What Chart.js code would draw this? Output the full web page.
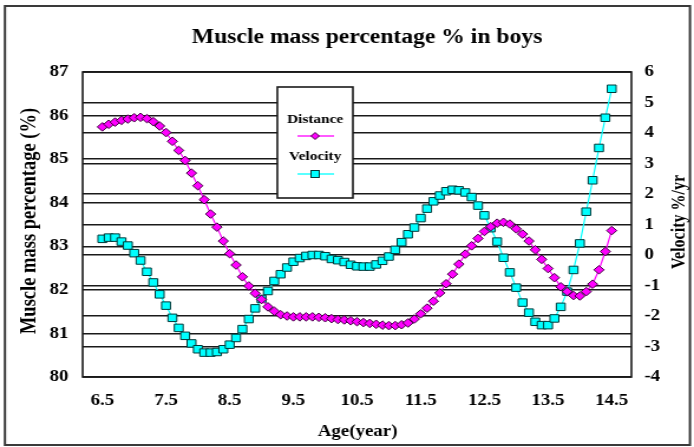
<!DOCTYPE html>
<html><head><meta charset="utf-8">
<script src="https://cdn.jsdelivr.net/npm/chart.js@4"></script>
<style>
html,body{margin:0;padding:0;background:#fff;overflow:hidden}
#wrap{width:694px;height:447px;position:relative;overflow:hidden}
#c{position:absolute;left:0;top:0;transform:scaleX(1.18027);transform-origin:0 0}
</style></head>
<body><div id="wrap"><canvas id="c" width="588" height="447"></canvas></div>
<script>
const ages = [6.5,6.6,6.7,6.8,6.9,7.0,7.1,7.2,7.3,7.4,7.5,7.6,7.7,7.8,7.9,8.0,8.1,8.2,8.3,8.4,8.5,8.6,8.7,8.8,8.9,9.0,9.1,9.2,9.3,9.4,9.5,9.6,9.7,9.8,9.9,10.0,10.1,10.2,10.3,10.4,10.5,10.6,10.7,10.8,10.9,11.0,11.1,11.2,11.3,11.4,11.5,11.6,11.7,11.8,11.9,12.0,12.1,12.2,12.3,12.4,12.5,12.6,12.7,12.8,12.9,13.0,13.1,13.2,13.3,13.4,13.5,13.6,13.7,13.8,13.9,14.0,14.1,14.2,14.3,14.4,14.5];
const distance = [85.74,85.80,85.85,85.89,85.92,
  85.95,85.96,85.93,85.86,85.76,85.61,85.41,85.20,84.97,84.68,
  84.39,84.07,83.74,83.44,83.12,82.83,82.57,82.30,82.09,81.92,
  81.78,81.61,81.51,81.43,81.40,81.38,81.38,81.38,81.38,81.37,
  81.36,81.34,81.32,81.31,81.29,81.27,81.25,81.23,81.21,81.19,
  81.18,81.18,81.20,81.24,81.33,81.45,81.58,81.74,81.93,82.14,
  82.36,82.59,82.82,83.01,83.18,83.34,83.45,83.53,83.55,83.51,
  83.40,83.28,83.12,82.92,82.70,82.49,82.28,82.07,81.96,81.87,
  81.86,81.96,82.13,82.46,82.88,83.36];
const velocity = [0.53,0.57,0.57,0.44,0.31,
  0.06,-0.18,-0.55,-0.90,-1.29,-1.66,-2.06,-2.39,-2.65,-2.90,
  -3.09,-3.20,-3.20,-3.18,-3.09,-2.94,-2.72,-2.43,-2.10,-1.75,
  -1.44,-1.18,-0.85,-0.63,-0.41,-0.22,-0.10,-0.03,0.00,0.00,
  -0.04,-0.13,-0.17,-0.23,-0.32,-0.37,-0.38,-0.38,-0.31,-0.19,
  -0.05,0.17,0.42,0.68,0.90,1.21,1.52,1.76,1.95,2.09,
  2.14,2.12,2.05,1.90,1.62,1.30,0.88,0.44,-0.09,-0.57,
  -1.07,-1.56,-1.89,-2.19,-2.30,-2.30,-2.08,-1.70,-1.20,-0.49,
  0.38,1.42,2.45,3.51,4.50,5.45];
const xTicks = [6.5,7.5,8.5,9.5,10.5,11.5,12.5,13.5,14.5];
const leftTicks = [80,81,82,83,84,85,86,87];
const rightTicks = [-4,-3,-2,-1,0,1,2,3,4,5,6];
const titleText = 'Muscle mass percentage % in boys';
const xTitle = 'Age(year)';
const leftTitle = 'Muscle mass percentage (%)';
const rightTitle = 'Velocity %/yr';
const seriesNames = ['Distance','Velocity'];

const FONT = 'Liberation Serif';
const tickFont = {family: FONT, size: 16, weight: 'bold'};

const deco = {
  id: 'deco',
  beforeDraw(chart) {
    const ctx = chart.ctx;
    ctx.save(); ctx.fillStyle = '#fff'; ctx.fillRect(0, 0, chart.width, chart.height); ctx.restore();
  },
  beforeDatasetsDraw(chart) {
    const {ctx, chartArea: a} = chart;
    ctx.save();
    ctx.strokeStyle = '#1a1a1a'; ctx.lineWidth = 1.6;
    ctx.strokeRect(a.left, a.top, a.right - a.left, a.bottom - a.top);
    ctx.restore();
  },
  afterDraw(chart) {
    const ctx = chart.ctx;
    ctx.save();
    // outer frame
    ctx.strokeStyle = '#3a3a3a'; ctx.lineWidth = 2;
    ctx.strokeRect(4.2, 6, 580.4, 439);
    ctx.fillStyle = '#000';
    ctx.textAlign = 'center'; ctx.textBaseline = 'middle';
    ctx.font = 'bold 20px "' + FONT + '"';
    ctx.fillText(titleText, 311, 38);
    ctx.font = 'bold 16px "' + FONT + '"';
    ctx.fillText(xTitle, 303, 432);
    ctx.save(); ctx.translate(576, 222); ctx.rotate(-Math.PI / 2); ctx.fillText(rightTitle, 0, 0); ctx.restore();
    ctx.font = 'bold 18.5px "' + FONT + '"';
    ctx.save(); ctx.translate(25, 221); ctx.rotate(-Math.PI / 2); ctx.fillText(leftTitle, 0, 0); ctx.restore();
    // legend
    const L = 235, R = 299, T = 87, B = 198, cx = (L + R) / 2;
    ctx.fillStyle = '#fff'; ctx.fillRect(L, T, R - L, B - T);
    ctx.strokeStyle = '#1a1a1a'; ctx.lineWidth = 1.6; ctx.strokeRect(L, T, R - L, B - T);
    ctx.fillStyle = '#000'; ctx.font = 'bold 13px "' + FONT + '"';
    ctx.fillText(seriesNames[0], cx, 120);
    ctx.fillText(seriesNames[1], cx, 157);
    ctx.lineWidth = 1.3;
    ctx.strokeStyle = '#FF00FF';
    ctx.beginPath(); ctx.moveTo(252, 136); ctx.lineTo(283, 136); ctx.stroke();
    ctx.fillStyle = '#FF00FF'; ctx.strokeStyle = '#400040'; ctx.lineWidth = 1;
    ctx.beginPath(); ctx.moveTo(cx, 132.5); ctx.lineTo(cx + 3.5, 136); ctx.lineTo(cx, 139.5); ctx.lineTo(cx - 3.5, 136); ctx.closePath(); ctx.fill(); ctx.stroke();
    ctx.strokeStyle = '#00FFFF'; ctx.lineWidth = 1.3;
    ctx.beginPath(); ctx.moveTo(252, 174); ctx.lineTo(283, 174); ctx.stroke();
    ctx.fillStyle = '#00FFFF'; ctx.strokeStyle = '#003838'; ctx.lineWidth = 1;
    ctx.fillRect(cx - 3.5, 170.5, 7, 7); ctx.strokeRect(cx - 3.5, 170.5, 7, 7);
    ctx.restore();
  }
};

new Chart(document.getElementById('c'), {
  type: 'line',
  data: {
    datasets: [
      {
        label: seriesNames[0],
        data: ages.map((a, i) => ({x: a, y: distance[i]})),
        yAxisID: 'yL',
        borderColor: '#FF00FF', borderWidth: 1.2,
        pointStyle: 'rectRot', pointRadius: 4.3,
        pointBackgroundColor: '#FF00FF', pointBorderColor: '#400040', pointBorderWidth: 1,
        tension: 0, fill: false
      },
      {
        label: seriesNames[1],
        data: ages.map((a, i) => ({x: a, y: velocity[i]})),
        yAxisID: 'yR',
        borderColor: '#00FFFF', borderWidth: 1.2,
        pointStyle: 'rect', pointRadius: 5.3,
        pointBackgroundColor: '#00FFFF', pointBorderColor: '#003838', pointBorderWidth: 1,
        tension: 0, fill: false
      }
    ]
  },
  options: {
    responsive: false, animation: false, devicePixelRatio: 1,
    layout: {padding: {top: 72, left: 0, right: 0, bottom: 0}},
    plugins: {legend: {display: false}, tooltip: {enabled: false}, title: {display: false}},
    scales: {
      x: {
        type: 'linear', min: 6.19, max: 14.81, offset: false,
        grid: {display: false, drawTicks: false}, border: {display: false},
        afterBuildTicks: s => { s.ticks = xTicks.map(v => ({value: v})); },
        afterFit: s => { s.height = 70; },
        ticks: {font: tickFont, color: '#000', padding: 14, maxRotation: 0, autoSkip: false,
          callback: v => Number(v).toFixed(1)}
      },
      yL: {
        type: 'linear', position: 'left', min: 80, max: 87,
        grid: {color: '#1a1a1a', lineWidth: 1.5, drawTicks: false}, border: {display: false},
        afterBuildTicks: s => { s.ticks = leftTicks.map(v => ({value: v})); },
        afterFit: s => { s.width = 70; },
        ticks: {font: tickFont, color: '#000', padding: 12, callback: v => String(v)}
      },
      yR: {
        type: 'linear', position: 'right', min: -4, max: 6,
        grid: {color: '#1a1a1a', lineWidth: 1.5, drawTicks: false, drawOnChartArea: true}, border: {display: false},
        afterBuildTicks: s => { s.ticks = rightTicks.map(v => ({value: v})); },
        afterFit: s => { s.width = 53; },
        ticks: {font: tickFont, color: '#000', padding: 11, callback: v => String(v)}
      }
    }
  },
  plugins: [deco]
});
</script>
</body></html>
